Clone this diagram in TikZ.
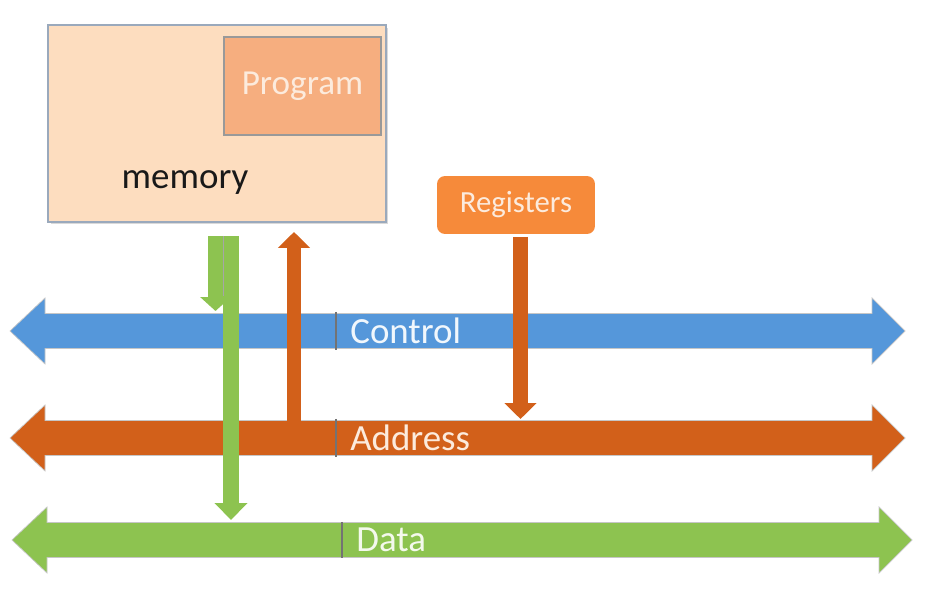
\documentclass[tikz,border=0pt]{standalone}
\usepackage{fontspec}
\setmainfont{Carlito}
\usetikzlibrary{arrows.meta,shadows}
\definecolor{ctrlblue}{HTML}{5597DA}
\definecolor{addrorange}{HTML}{D2601A}
\definecolor{datagreen}{HTML}{8DC350}
\definecolor{memfill}{HTML}{FDDDBF}
\definecolor{memedge}{HTML}{9AA9BC}
\definecolor{progfill}{HTML}{F6AE7F}
\definecolor{regfill}{HTML}{F68A3A}
\definecolor{paletext}{HTML}{FCEBDD}

\tikzset{
  membox/.style={draw=memedge, fill=memfill, line width=0.8pt,
    drop shadow={opacity=0.3, shadow xshift=0.05cm, shadow yshift=-0.05cm}},
  progbox/.style={draw=gray!80, fill=progfill, line width=0.6pt, text=paletext,
    font=\fontsize{20}{23}\selectfont},
  regbox/.style={fill=regfill, rounded corners=0.16cm, text=paletext,
    font=\fontsize{17.5}{20}\selectfont},
  buslabel/.style={anchor=west, minimum height=0.7cm, inner xsep=0.28cm,
    font=\fontsize{21}{24}\selectfont},
  divider/.style={draw=black!55, line width=0.7pt},
  vbus/.style={line width=0.3cm, -{Triangle[width=0.63cm,length=0.32cm]}}
}

\begin{document}
\begin{tikzpicture}[x=0.02cm, y=-0.02cm]
\useasboundingbox (0,0) rectangle (934,591);

% memory with the program in it
\node[membox, minimum width=6.76cm, minimum height=3.94cm] (memory) at (217,123.5) {};
\node[progbox, minimum width=3.14cm, minimum height=1.96cm] (program) at (302.5,86) {Program};
\node[font=\fontsize{21}{24}\selectfont, text=black!90] (memlabel) at (185,183) {memory};
\node[regbox, minimum width=3.16cm, minimum height=1.16cm] (registers) at (516,205) {Registers};

% the three buses
\foreach \name/\col/\y/\l/\r in {control/ctrlblue/331/10/905, address/addrorange/438/10/905, data/datagreen/540/12/912} {
    \fill[\col, draw=gray!45, line width=0.4pt] (\l,\y) -- (\l+35,\y-33) -- (\l+35,\y-17.5)
      -- (\r-33,\y-17.5) -- (\r-33,\y-33) -- (\r,\y) -- (\r-33,\y+33) -- (\r-33,\y+17.5)
      -- (\l+35,\y+17.5) -- (\l+35,\y+33) -- cycle;
}

% ends of the vertical arrows
\coordinate (memctrl) at (215.5,236);
\coordinate (ctrlin) at (215.5,311);
\coordinate (memdata) at (231,236);
\coordinate (datain) at (231,520);
\coordinate (addrout) at (294,421);
\coordinate (memin) at (294,232);
\coordinate (regout) at (520.5,237);
\coordinate (addrin) at (520.5,419);

\draw[vbus, datagreen, line width=0.3cm, -{Triangle[width=0.6cm,length=0.28cm]}] (memctrl) -- (ctrlin);
\draw[vbus, datagreen, line width=0.32cm, -{Triangle[width=0.64cm,length=0.34cm]}] (memdata) -- (datain);
\draw[black!35, line width=0.5pt] ([xshift=-0.16cm]memdata) -- ([xshift=-0.16cm,yshift=-1.2cm]memdata);
\draw[vbus, addrorange, line width=0.28cm] (addrout) -- (memin);
\draw[vbus, addrorange] (regout) -- (addrin);

% bus labels
\node[buslabel, text=white!92!ctrlblue] (controllbl) at (336,331) {Control};
\node[buslabel, text=paletext] (addresslbl) at (336,438) {Address};
\node[buslabel, text=white!90!datagreen] (datalbl) at (342,540) {Data};
\foreach \lbl in {controllbl, addresslbl, datalbl}
    \draw[divider] (\lbl.north west) -- (\lbl.south west);
\end{tikzpicture}
\end{document}
